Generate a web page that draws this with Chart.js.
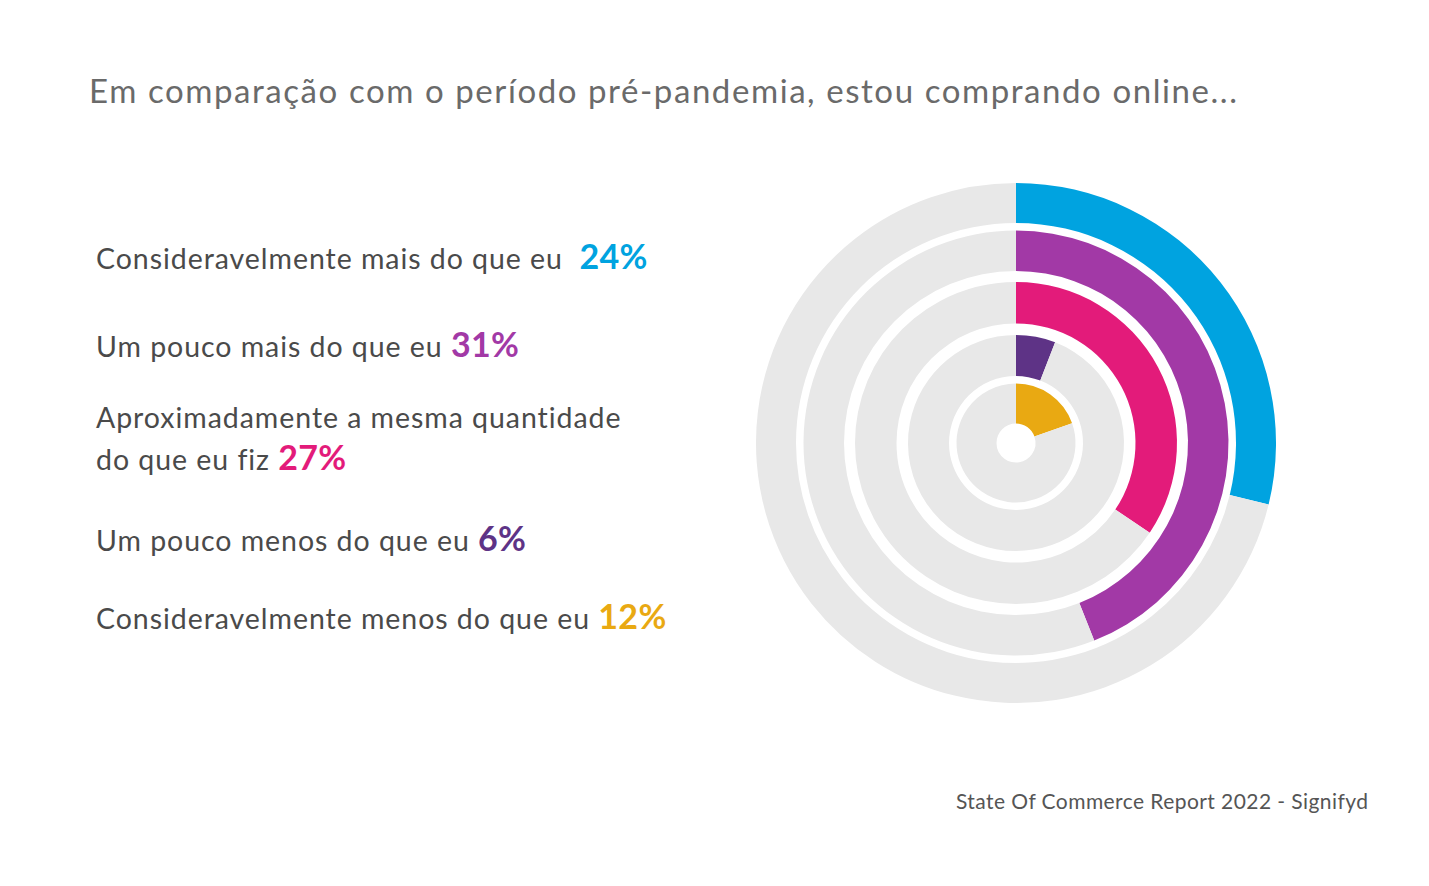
<!DOCTYPE html>
<html>
<head>
<meta charset="utf-8">
<script src="https://cdn.jsdelivr.net/npm/chart.js@4.4.1/dist/chart.umd.min.js"></script>
<style>
  html, body { margin: 0; padding: 0; background: #fff; }
  body { width: 1429px; height: 886px; position: relative; overflow: hidden; font-family: Lato, "Open Sans", sans-serif; }
  .txt { position: absolute; white-space: nowrap; line-height: 1.2; }
  .title { color: #6a6a6a; font-size: 33px; }
  .lbl { color: #4a4a4a; font-size: 28.5px; }
  .pct { font-weight: 700; font-size: 34px; }
  .src { color: #555; font-size: 21px; }
  #chart { position: absolute; left: 756px; top: 183px; }
</style>
</head>
<body>
<canvas id="chart" width="520" height="520"></canvas>
<script>
// dados
const categories = [
  'Consideravelmente mais do que eu',
  'Um pouco mais do que eu',
  ['Aproximadamente a mesma quantidade', 'do que eu fiz'],
  'Um pouco menos do que eu',
  'Consideravelmente menos do que eu'
];
const values = [24, 31, 27, 6, 12];            // % no texto
const arcShare = [28.8, 44.0, 34.4, 5.9, 19.6]; // parte do círculo que cada anel ocupa no desenho
const colors = ['#00A3E0', '#A239A6', '#E31B7A', '#5E3386', '#E9A912'];
const trackColor = '#E8E8E8';

const titleText = 'Em comparação com o período pré-pandemia, estou comprando online...';
const sourceText = 'State Of Commerce Report 2022 - Signifyd';

// espessura dos anéis e dos espaços (de fora pra dentro)
const ringWidth = [40, 40.5, 41.5, 41, 40];
const ringGap = [7.5, 11, 11.5, 7.5];

const datasets = [];
values.forEach((v, i) => {
  if (i > 0) {
    datasets.push({
      data: [100],
      backgroundColor: ['rgba(0,0,0,0)'],
      weight: ringGap[i - 1],
      borderWidth: 0
    });
  }
  datasets.push({
    label: [].concat(categories[i]).join(' '),
    data: [arcShare[i], 100 - arcShare[i]],
    backgroundColor: [colors[i], trackColor],
    weight: ringWidth[i],
    borderWidth: 0,
    hoverOffset: 0,
    offset: 0
  });
});

new Chart(document.getElementById('chart'), {
  type: 'doughnut',
  data: {
    labels: ['valor', 'resto'],
    datasets: datasets
  },
  options: {
    responsive: false,
    animation: false,
    cutout: 19.5,
    events: [],
    layout: { padding: 0 },
    plugins: {
      legend: { display: false },
      tooltip: { enabled: false },
      title: { display: false }
    }
  }
});

// textos
const rowX = 96;
const rowBase = [[269], [357], [428], [551], [629]];
rowBase[2].push(470);

function addText(cls, x, base, html) {
  const el = document.createElement('div');
  el.className = 'txt ' + cls;
  el.style.left = x + 'px';
  el.innerHTML = html;
  el._base = base;
  document.body.appendChild(el);
  return el;
}

function setBaseline(el) {
  el.style.top = '0px';
  const m = document.createElement('span');
  m.style.cssText = 'display:inline-block;width:0;height:0;vertical-align:baseline';
  el.appendChild(m);
  const b = m.getBoundingClientRect().top - el.getBoundingClientRect().top;
  m.remove();
  el.style.top = (el._base - b) + 'px';
}

function spacingFor(el, target) {
  el.style.letterSpacing = '0px';
  const w = el.getBoundingClientRect().width;
  const n = el.textContent.length;
  return (target - w) / (n - 1);
}

const titleEl = addText('title', 89, 103, titleText);
const sourceEl = addText('src', 956, 809, sourceText);

const lines = [];
categories.forEach((cat, i) => {
  const parts = [].concat(cat);
  const sep = i === 0 ? '&nbsp;&nbsp;' : ' ';
  parts.forEach((p, j) => {
    let html = '<span class="lbl">' + p + '</span>';
    if (j === parts.length - 1) {
      html += '<span class="lbl">' + sep + '</span><span class="pct" style="color:' + colors[i] + '">' + values[i] + '%</span>';
    }
    lines.push(addText('', rowX, rowBase[i][j], html));
  });
});

function layout() {
  titleEl.style.letterSpacing = spacingFor(titleEl, 1148) + 'px';
  sourceEl.style.letterSpacing = spacingFor(sourceEl, 412) + 'px';

  const firstLbl = lines[0].querySelector('.lbl');
  const lblLs = spacingFor(firstLbl, 466);
  const firstPct = lines[0].querySelector('.pct');
  const pctLs = spacingFor(firstPct, 68);
  document.querySelectorAll('.lbl').forEach(e => e.style.letterSpacing = lblLs + 'px');
  document.querySelectorAll('.pct').forEach(e => e.style.letterSpacing = pctLs + 'px');

  [titleEl, sourceEl].concat(lines).forEach(setBaseline);
}

layout();
if (document.fonts && document.fonts.ready) document.fonts.ready.then(layout);
</script>
</body>
</html>
